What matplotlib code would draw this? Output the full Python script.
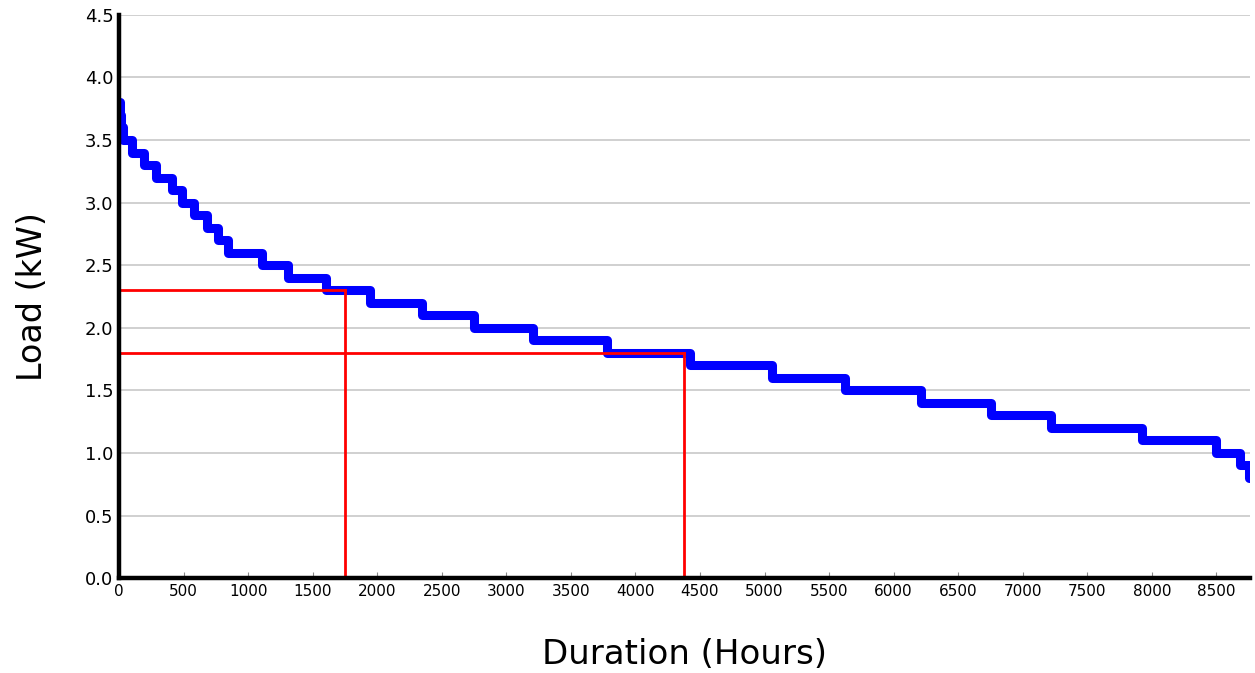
#load duration curve with 20% / 50% marks

import numpy as np
import matplotlib
matplotlib.use("Agg")
import matplotlib.pyplot as plt

# hour at which each load level starts (sorted load, descending)
step_hours = [0, 5, 15, 30, 100, 190, 290, 410, 485, 580, 680, 765, 845,
              1105, 1310, 1600, 1945, 2350, 2753, 3210, 3782, 4420, 5060,
              5625, 6211, 6752, 7216, 7920, 8500, 8680, 8750, 8760]
step_load = [3.8, 3.7, 3.6, 3.5, 3.4, 3.3, 3.2, 3.1, 3.0, 2.9, 2.8, 2.7, 2.6,
             2.5, 2.4, 2.3, 2.2, 2.1, 2.0, 1.9, 1.8, 1.7, 1.6,
             1.5, 1.4, 1.3, 1.2, 1.1, 1.0, 0.9, 0.8, 0.8]

# marker points (hours, kW)
mark_hours = [1752, 4380]
mark_load = [2.3, 1.8]

xticks = list(range(0, 9000, 500))
yticks = [0.0, 0.5, 1.0, 1.5, 2.0, 2.5, 3.0, 3.5, 4.0, 4.5]

fig = plt.figure(figsize=(12.55, 6.73), dpi=100)
ax = fig.add_axes([0.0948, 0.141, 0.9012, 0.837])

ax.step(step_hours, step_load, where="post", color="#0000ff", lw=6.5,
        solid_joinstyle="round", solid_capstyle="round", zorder=3)

for h, l in zip(mark_hours, mark_load):
    ax.plot([0, h], [l, l], color="#ff0000", lw=2, zorder=4)
    ax.plot([h, h], [0, l], color="#ff0000", lw=2, zorder=4)

ax.set_xlim(0, 8760)
ax.set_ylim(0, 4.5)
ax.set_xticks(xticks)
ax.set_yticks(yticks)
ax.set_yticklabels(["%.1f" % v for v in yticks])

ax.yaxis.grid(True, color="#c8c8c8", lw=1.2)
ax.set_axisbelow(True)

for s in ["top", "right"]:
    ax.spines[s].set_visible(False)
for s in ["left", "bottom"]:
    ax.spines[s].set_linewidth(3.2)
    ax.spines[s].set_color("black")
    ax.spines[s].set_zorder(5)

ax.tick_params(axis="x", direction="in", length=4, width=0.8, color="#888888",
               labelsize=11, pad=4)
ax.tick_params(axis="y", length=0, labelsize=13, pad=4)

ax.set_xlabel("Duration (Hours)", fontsize=24.5, labelpad=28)
ax.set_ylabel("Load (kW)", fontsize=24, labelpad=26)

fig.savefig("out.png", dpi=100)
